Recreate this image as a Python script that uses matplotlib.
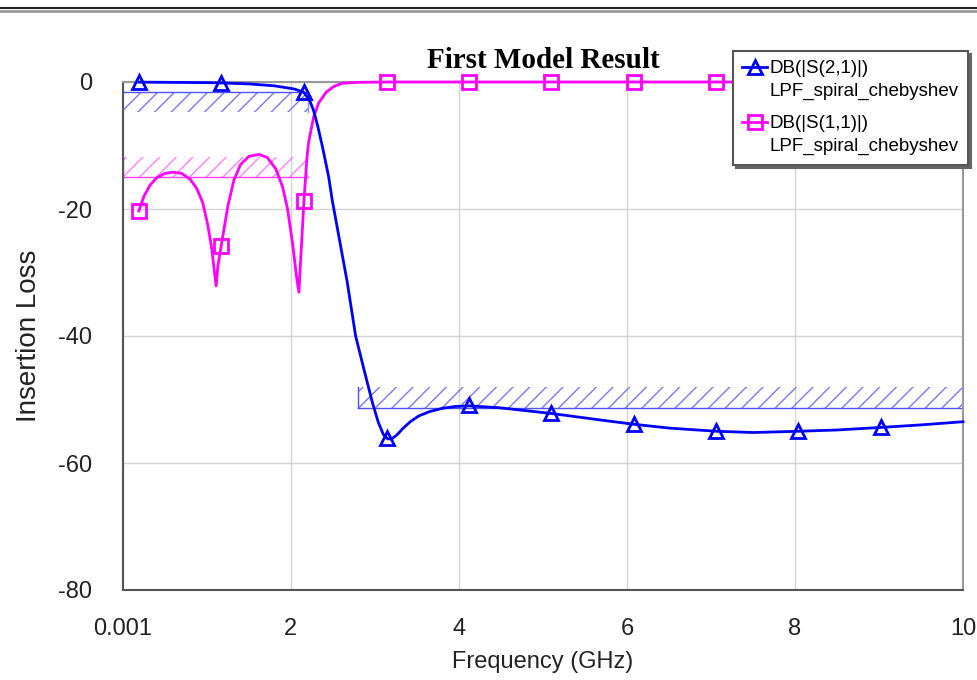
import numpy as np
import matplotlib.pyplot as plt
from matplotlib.lines import Line2D
from matplotlib.legend_handler import HandlerLine2D

# S21 (blue)
s21_freq = [0.19, 0.5, 1.0, 1.17, 1.5, 1.8, 2.04, 2.15, 2.22, 2.27, 2.32, 2.38,
            2.45, 2.49, 2.58, 2.67, 2.77, 2.87, 2.97, 3.04, 3.1, 3.15, 3.2,
            3.26, 3.33, 3.42, 3.52, 3.65, 3.8, 3.95, 4.12, 4.48, 5.1, 5.67,
            6.08, 6.5, 7.06, 7.5, 8.05, 8.5, 9.02, 9.5, 10.0]
s21_db = [-0.02, -0.05, -0.1, -0.15, -0.3, -0.6, -1.1, -1.6, -2.8, -4.5, -7.0,
          -10.5, -15.0, -18.5, -25.0, -31.5, -40.0, -45.3, -50.5, -53.6, -55.5,
          -56.2, -56.2, -55.6, -54.6, -53.5, -52.6, -51.9, -51.4, -51.1, -51.0,
          -51.3, -52.2, -53.2, -53.9, -54.5, -55.0, -55.2, -55.0, -54.8, -54.4,
          -54.0, -53.5]

# S11 (magenta)
s11_freq = [0.19, 0.25, 0.32, 0.40, 0.50, 0.60, 0.70, 0.80, 0.88, 0.95, 1.01,
            1.06, 1.09, 1.11, 1.13, 1.18, 1.25, 1.32, 1.40, 1.50, 1.62, 1.72,
            1.82, 1.90, 1.96, 2.02, 2.07, 2.095, 2.12, 2.155, 2.19, 2.21, 2.27,
            2.33, 2.42, 2.51, 2.61, 2.8, 3.2, 10.0]
s11_db = [-20.3, -18.0, -16.3, -15.1, -14.4, -14.2, -14.4, -15.3, -16.8, -19.0,
          -22.5, -26.5, -30.0, -32.1, -29.0, -25.0, -19.5, -15.5, -13.0, -11.7,
          -11.4, -11.9, -13.7, -16.5, -20.0, -25.5, -31.0, -33.1, -27.0, -18.7,
          -12.0, -9.5, -5.5, -3.3, -1.6, -0.7, -0.2, -0.05, 0.0, 0.0]

# marker positions
marker_freq = [0.19, 1.17, 2.15, 3.14, 4.12, 5.1, 6.08, 7.06, 8.04, 9.02]
s21_marker_db = [-0.02, -0.15, -1.6, -56.0, -50.9, -52.2, -53.9, -55.0, -55.0, -54.4]
s11_marker_db = [-20.3, -25.8, -18.7, -0.05, 0.0, 0.0, 0.0, 0.0, 0.0, 0.0]

# goal masks: (start GHz, stop GHz, level dB)
pass_mask = (0.001, 2.2, -1.5)
refl_mask = (0.001, 2.2, -15.0)
stop_mask = (2.8, 10.0, -51.3)

xticks = [0.001, 2, 4, 6, 8, 10]
xticklabels = ['0.001', '2', '4', '6', '8', '10']
yticks = [0, -20, -40, -60, -80]

blue = '#0000ff'
pink = '#ff00ff'

plt.rcParams['font.family'] = ['Liberation Sans', 'DejaVu Sans']
plt.rcParams['axes.unicode_minus'] = False
plt.rcParams['hatch.linewidth'] = 1.0

fig = plt.figure(figsize=(9.77, 6.8), dpi=100)
ax = fig.add_axes([123 / 977, 90 / 680, 840 / 977, 508 / 680])

# masks with hatching (band ~3.2 dB high)
hh = 3.2
x0, x1, lv = pass_mask
ax.fill_between([x0, x1], lv - hh, lv, facecolor='none', edgecolor='#7878ff',
                hatch='//', linewidth=0)
ax.plot([x0, x1], [lv, lv], color='#5050ff', lw=1)
ax.plot([x1, x1], [lv, lv - hh], color='#9090ff', lw=1)

x0, x1, lv = refl_mask
ax.fill_between([x0, x1], lv, lv + hh, facecolor='none', edgecolor='#ff80ff',
                hatch='//', linewidth=0)
ax.plot([x0, x1], [lv, lv], color='#ff40ff', lw=1)
ax.plot([x0, x0], [lv, lv + hh], color='#ff40ff', lw=1)

x0, x1, lv = stop_mask
ax.fill_between([x0, x1], lv, lv + hh, facecolor='none', edgecolor='#7878ff',
                hatch='//', linewidth=0)
ax.plot([x0, x1], [lv, lv], color='#5050ff', lw=1)
ax.plot([x0, x0], [lv, lv + hh], color='#5050ff', lw=1)

# curves
ax.plot(s11_freq, s11_db, color=pink, lw=2, clip_on=False, zorder=3)
ax.plot(s21_freq, s21_db, color=blue, lw=2, clip_on=False, zorder=4)
ax.plot(marker_freq, s11_marker_db, ls='none', marker='s', ms=10, mfc='none',
        mec=pink, mew=2, clip_on=False, zorder=3)
ax.plot(marker_freq, s21_marker_db, ls='none', marker='^', ms=10, mfc='none',
        mec=blue, mew=2, clip_on=False, zorder=4)

ax.set_xlim(0.001, 10)
ax.set_ylim(-80, 0)
ax.set_xticks(xticks)
ax.set_xticklabels(xticklabels)
ax.set_yticks(yticks)
ax.tick_params(length=0, labelsize=17, colors='#222222')
ax.tick_params(axis='y', pad=22)
ax.tick_params(axis='x', pad=20)
ax.grid(True, color='#d4d4d4', lw=1)
ax.set_axisbelow(True)
for s in ['left', 'bottom']:
    ax.spines[s].set_color('#555555')
    ax.spines[s].set_linewidth(1.5)
for s in ['top', 'right']:
    ax.spines[s].set_color('#999999')
    ax.spines[s].set_linewidth(1.5)

ax.set_xlabel('Frequency (GHz)', fontsize=17, color='#222222', labelpad=8)
ax.set_ylabel('Insertion Loss', fontsize=20, color='#222222', labelpad=12)
ax.set_title('First Model Result', fontsize=21, fontweight='bold',
             family='Liberation Serif', pad=10)


class FirstLineHandler(HandlerLine2D):
    # put the handle on the first text line, as in the original
    def create_artists(self, legend, orig_handle, xdescent, ydescent,
                       width, height, fontsize, trans):
        arts = super().create_artists(legend, orig_handle, xdescent, ydescent,
                                      width, height, fontsize, trans)
        for a in arts:
            a.set_ydata(np.asarray(a.get_ydata()) + fontsize * 0.72)
        return arts


h1 = Line2D([], [], color=blue, lw=2, marker='^', ms=10, mfc='none', mec=blue, mew=2)
h2 = Line2D([], [], color=pink, lw=2, marker='s', ms=10, mfc='none', mec=pink, mew=2)
leg = fig.legend([h1, h2],
                 ['DB(|S(2,1)|)\nLPF_spiral_chebyshev',
                  'DB(|S(1,1)|)\nLPF_spiral_chebyshev'],
                 loc='upper left', bbox_to_anchor=(733 / 977, 1 - 51 / 680),
                 borderaxespad=0, fontsize=13.5, handlelength=1.3,
                 handletextpad=0.15, borderpad=0.5, labelspacing=0.8,
                 fancybox=False, framealpha=1, edgecolor='#555555',
                 shadow={'color': '#666666', 'alpha': 1},
                 handler_map={Line2D: FirstLineHandler()})
leg.get_frame().set_linewidth(1.5)
for t in leg.get_texts():
    t.set_linespacing(1.45)

# window border at top
fig.add_artist(Line2D([0, 1], [1 - 8 / 680, 1 - 8 / 680], color='#222222', lw=1.5))
fig.add_artist(Line2D([0, 1], [1 - 10.5 / 680, 1 - 10.5 / 680], color='#999999', lw=2))

fig.savefig('out.png', dpi=100)
